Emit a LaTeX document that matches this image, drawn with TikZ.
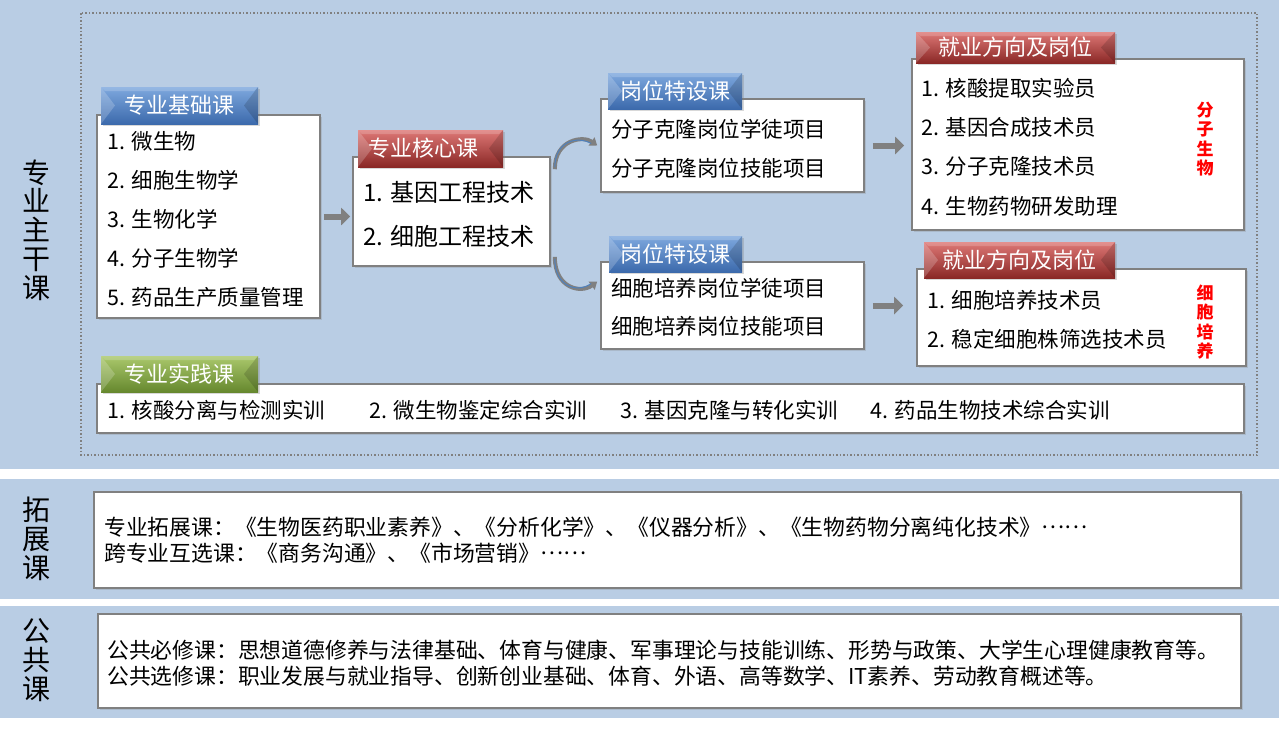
\documentclass[tikz,border=0pt]{standalone}
\usepackage{fontspec}
\setmainfont{Noto Sans CJK SC}
\usetikzlibrary{arrows.meta,shadows,calc}

\definecolor{bandblue}{RGB}{185,205,228}
\definecolor{boxgray}{RGB}{128,128,128}
\definecolor{bluetop}{RGB}{126,168,222}
\definecolor{bluebot}{RGB}{60,106,172}
\definecolor{redtop}{RGB}{222,120,118}
\definecolor{redbot}{RGB}{138,40,38}
\definecolor{greentop}{RGB}{170,200,108}
\definecolor{greenbot}{RGB}{102,136,46}
\definecolor{tipblue}{RGB}{79,129,189}

\newcommand{\dotsmid}{\raisebox{0.3em}{……}}

\tikzset{
  coursebox/.style={draw=boxgray,line width=1.6pt,fill=white,rectangle,inner sep=0pt,
    drop shadow={opacity=0.25,shadow xshift=1.5pt,shadow yshift=-1.5pt}},
  banner/.style={rectangle,inner sep=0pt,text=white,font=\fontsize{22}{24}\selectfont,
    drop shadow={opacity=0.3,shadow xshift=1.5pt,shadow yshift=-2pt},
    path picture={
      \fill[white,opacity=0.2] (path picture bounding box.north west) -- (path picture bounding box.south west)
        -- ($(path picture bounding box.west)+(14,0)$) -- cycle;
      \fill[black,opacity=0.15] (path picture bounding box.north east) -- (path picture bounding box.south east)
        -- ($(path picture bounding box.east)+(-14,0)$) -- cycle;
      \fill[white,opacity=0.18] (path picture bounding box.north west) -- (path picture bounding box.north east)
        -- ($(path picture bounding box.north east)+(-4,4)$) -- ($(path picture bounding box.north west)+(4,4)$) -- cycle;
    }},
  bluebanner/.style={banner,top color=bluetop,bottom color=bluebot},
  redbanner/.style={banner,top color=redtop,bottom color=redbot},
  greenbanner/.style={banner,top color=greentop,bottom color=greenbot},
  item/.style={anchor=west,inner sep=0pt,font=\fontsize{21.5}{24}\selectfont},
  bigitem/.style={anchor=west,inner sep=0pt,font=\fontsize{24}{28}\selectfont},
  longline/.style={anchor=west,inner sep=0pt,font=\fontsize{21.8}{24}\selectfont},
  sidetitle/.style={align=center,inner sep=0pt,font=\fontsize{28}{28.75}\selectfont},
  redtag/.style={align=center,inner sep=0pt,text=red,font=\fontsize{17}{19.5}\selectfont\bfseries},
  blockarrow/.style={draw=boxgray,line width=6pt,-{Triangle[length=9pt,width=17pt]}},
  bendarrow/.style={draw=boxgray,line width=4pt,-{Triangle[length=7pt,width=10pt]}}
}

\begin{document}
\begin{tikzpicture}[x=1pt,y=-1pt]
\useasboundingbox[fill=white] (0,0) rectangle (1279,729);

% background bands
\fill[bandblue] (0,0) rectangle (1279,469);
\fill[bandblue] (0,479) rectangle (1279,599);
\fill[bandblue] (0,606) rectangle (1279,718);
\draw[boxgray,line width=1.5pt,dotted] (81,13) rectangle (1257,455);

\node[sidetitle] (main) at (36,230) {专\\业\\主\\干\\课};
\node[sidetitle] (ext) at (37,539) {拓\\展\\课};
\node[sidetitle] (pub) at (37,660) {公\\共\\课};

% white boxes
\node[coursebox,minimum width=223pt,minimum height=203pt] (base) at (208.5,216.5) {};
\node[coursebox,minimum width=197pt,minimum height=109pt] (core) at (451.5,211.5) {};
\node[coursebox,minimum width=263pt,minimum height=93pt] (post1) at (732.5,145.5) {};
\node[coursebox,minimum width=263pt,minimum height=87pt] (post2) at (732.5,305.5) {};
\node[coursebox,minimum width=332pt,minimum height=171pt] (job1) at (1078,144.5) {};
\node[coursebox,minimum width=329pt,minimum height=97pt] (job2) at (1081.5,317.5) {};
\node[coursebox,minimum width=1147pt,minimum height=49pt] (prac) at (670.5,408.5) {};
\node[coursebox,minimum width=1147pt,minimum height=96pt] (extbox) at (667.5,540) {};
\node[coursebox,minimum width=1143pt,minimum height=94pt] (pubbox) at (669.5,661) {};

% banners
\node[bluebanner,minimum width=157pt,minimum height=37pt] (baseT) at (179.5,105.5) {专业基础课};
\node[redbanner,minimum height=37pt,text width=125pt,inner xsep=10pt,align=left] (coreT) at (430.5,148.5) {专业核心课};
\node[bluebanner,minimum width=134pt,minimum height=36pt] (post1T) at (675,91) {岗位特设课};
\node[bluebanner,minimum width=133pt,minimum height=36pt] (post2T) at (675.5,254) {岗位特设课};
\node[redbanner,minimum width=199pt,minimum height=31pt] (job1T) at (1015.5,47.5) {就业方向及岗位};
\node[redbanner,minimum width=191pt,minimum height=36pt] (job2T) at (1019.5,260) {就业方向及岗位};
\node[greenbanner,minimum width=157pt,minimum height=36pt] (pracT) at (179.5,374) {专业实践课};

% course lists
\foreach \t [count=\i] in {微生物,细胞生物学,生物化学,分子生物学,药品生产质量管理}
  \node[item] (b\i) at (107,102+39*\i) {\i. \t};
\node[bigitem] (c1) at (363,192) {1. 基因工程技术};
\node[bigitem] (c2) at (363,236) {2. 细胞工程技术};
\node[item] (p1) at (611,129) {分子克隆岗位学徒项目};
\node[item] (p2) at (611,168) {分子克隆岗位技能项目};
\node[item] (q1) at (611,288) {细胞培养岗位学徒项目};
\node[item] (q2) at (611,326) {细胞培养岗位技能项目};
\foreach \t/\y [count=\i] in {核酸提取实验员/88,基因合成技术员/127,分子克隆技术员/166,生物药物研发助理/206}
  \node[item] (j\i) at (921,\y) {\i. \t};
\node[item] (k1) at (927,300) {1. 细胞培养技术员};
\node[item] (k2) at (927,339) {2. 稳定细胞株筛选技术员};
\node[redtag] (tag1) at (1205,139) {分\\子\\生\\物};
\node[redtag] (tag2) at (1205,322) {细\\胞\\培\\养};
\foreach \t/\x [count=\i] in {核酸分离与检测实训/107,微生物鉴定综合实训/369,基因克隆与转化实训/620,药品生物技术综合实训/870}
  \node[item] (s\i) at (\x,410) {\i. \t};

\node[longline] (e1) at (104,527) {专业拓展课：《生物医药职业素养》、《分析化学》、《仪器分析》、《生物药物分离纯化技术》\dotsmid};
\node[longline] (e2) at (104,553) {跨专业互选课：《商务沟通》、《市场营销》\dotsmid};
\node[longline] (g1) at (107,650) {公共必修课：思想道德修养与法律基础、体育与健康、军事理论与技能训练、形势与政策、大学生心理健康教育等。};
\node[longline] (g2) at (107,676) {公共选修课：职业发展与就业指导、创新创业基础、体育、外语、高等数学、IT素养、劳动教育概述等。};

% arrows
\foreach \from/\to/\ga/\gb in {base/core/3/2, post1/job1/8/7, post2/job2/8/13}
  \draw[blockarrow,shorten <=\ga pt,shorten >=\gb pt] (\from.east) -- (\from.east -| \to.west);

\draw[bendarrow] ([shift={(4,13)}]core.north east) .. controls +(0,-30) and +(-14,-10) .. ([shift={(-3,0)}]post1.west);
\draw[tipblue,line width=1pt] ([shift={(4,11)}]core.north east) .. controls +(0,-26) and +(-14,-8) .. ([shift={(-9,-2)}]post1.west);
\draw[bendarrow] ([shift={(4,-10)}]core.south east) .. controls +(0,32) and +(-16,12) .. ([shift={(-3,-24)}]post2.west);
\draw[tipblue,line width=1pt] ([shift={(4,-8)}]core.south east) .. controls +(0,28) and +(-14,10) .. ([shift={(-9,-22)}]post2.west);

\end{tikzpicture}
\end{document}
